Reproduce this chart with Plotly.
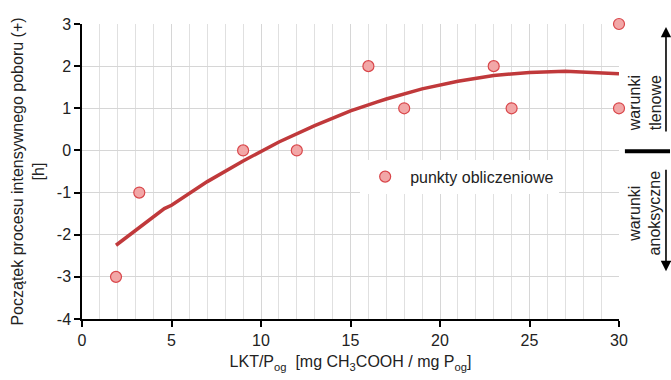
import plotly.graph_objects as go

# measured points
pts_x = [1.9, 3.2, 9.0, 12.0, 16.0, 18.0, 23.0, 24.0, 30.0, 30.0]
pts_y = [-3, -1, 0, 0, 2, 1, 2, 1, 3, 1]

# trend curve
curve_x = [1.9, 3, 4.6, 5, 7, 9, 11, 13, 15, 16.5, 17, 19, 21, 23, 25, 27, 29, 30]
curve_y = [-2.25, -1.90, -1.38, -1.30, -0.74, -0.25, 0.20, 0.59, 0.94, 1.15, 1.22, 1.46, 1.64, 1.78, 1.85, 1.88, 1.85, 1.82]

x_ticks = [0, 5, 10, 15, 20, 25, 30]
x_labels = ["0", "5", "10", "15", "20", "25", "30"]
y_ticks = [-4, -3, -2, -1, 0, 1, 2, 3]
y_labels = ["-4", "-3", "-2", "-1", "0", "1", "2", "3"]

FONT = "Liberation Sans, Arial, sans-serif"
TXT = "#222222"

fig = go.Figure()
fig.add_trace(go.Scatter(x=curve_x, y=curve_y, mode="lines",
                         line=dict(color="#c0393b", width=3.5), showlegend=False,
                         cliponaxis=False))
fig.add_trace(go.Scatter(x=pts_x, y=pts_y, mode="markers", name="punkty obliczeniowe",
                         marker=dict(size=11, color="#f2a7a7", line=dict(color="#d9464a", width=1.2)),
                         cliponaxis=False))

fig.update_layout(
    width=671, height=380,
    margin=dict(l=82, r=52, t=24, b=59),
    paper_bgcolor="white", plot_bgcolor="white",
    font=dict(family=FONT, size=15, color=TXT),
    showlegend=True,
    legend=dict(x=0.518, y=0.54, xanchor="left", yanchor="top",
                bgcolor="white", borderwidth=0, font=dict(size=16),
                itemwidth=40, entrywidth=240),
    xaxis=dict(range=[0, 30], tickvals=x_ticks, ticktext=x_labels, ticks="outside", ticklen=6,
               tickfont=dict(size=16),
               tickcolor="black", tickwidth=1.5, showline=True, linecolor="black", linewidth=1.5,
               showgrid=True, gridcolor="#d6d6d6", gridwidth=1,
               minor=dict(dtick=1, showgrid=True, gridcolor="#e0e0e0", gridwidth=1),
               zeroline=False,
               title=dict(text="LKT/P<sub>og</sub>&nbsp;&nbsp;[mg CH<sub>3</sub>COOH / mg P<sub>og</sub>]",
                          font=dict(size=16), standoff=8)),
    yaxis=dict(range=[-4, 3], tickvals=y_ticks, ticktext=y_labels, ticks="outside", ticklen=6,
               tickfont=dict(size=16),
               tickcolor="black", tickwidth=1.5, showline=True, linecolor="black", linewidth=1.5,
               showgrid=True, gridcolor="#d6d6d6", gridwidth=1, zeroline=False,
               title=dict(text="Początek procesu intensywnego poboru (+)<br>[h]",
                          font=dict(size=16), standoff=8)),
)

# right-side annotations
fig.add_annotation(xref="paper", yref="paper", x=1.0875, y=0.99, ax=0, ay=106,
                   showarrow=True, arrowhead=2, arrowsize=1.3, arrowwidth=1.6, arrowcolor="black", text="")
fig.add_annotation(xref="paper", yref="paper", x=1.0875, y=0.162, ax=0, ay=-103,
                   showarrow=True, arrowhead=2, arrowsize=1.3, arrowwidth=1.6, arrowcolor="black", text="")
fig.add_shape(type="line", xref="paper", yref="paper", x0=1.011, x1=1.095, y0=0.569, y1=0.569,
              line=dict(color="black", width=4))
fig.add_annotation(xref="paper", yref="paper", x=1.0485, y=0.63, text="warunki<br>tlenowe",
                   xanchor="center", yanchor="bottom",
                   textangle=-90, showarrow=False, font=dict(size=16, color=TXT))
fig.add_annotation(xref="paper", yref="paper", x=1.0485, y=0.509, text="warunki<br>anoksyczne",
                   xanchor="center", yanchor="top",
                   textangle=-90, showarrow=False, font=dict(size=16, color=TXT))

fig.write_html("out.html")
